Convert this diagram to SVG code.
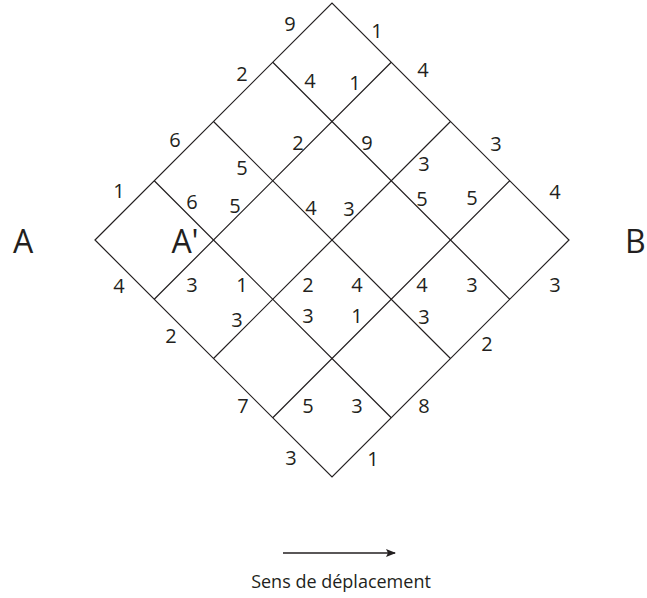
<svg xmlns="http://www.w3.org/2000/svg" width="647" height="598" viewBox="0 0 647 598">
<style>
.g{stroke:#231f20;fill:none;stroke-width:1.2}
.t{font-family:"Open Sans","Liberation Sans",sans-serif;font-size:20px;fill:#231f20;text-anchor:middle;dominant-baseline:central}
.b{font-family:"Open Sans","Liberation Sans",sans-serif;font-size:32px;fill:#231f20;text-anchor:middle}
</style>
<defs>
<marker id="ah" markerWidth="10" markerHeight="8" refX="9" refY="4" orient="auto" markerUnits="userSpaceOnUse">
<path d="M0,0 L10,4 L0,8 L2,4 Z" fill="#231f20"/>
</marker>
</defs>
<g id="grid">
<path class="g" d="M95,240 L332,3 L569,240 L332,477 Z"/>
<path class="g" d="M154.25,299.25 L391.25,62.25 M213.5,358.5 L450.5,121.5 M272.75,417.75 L509.75,180.75"/>
<path class="g" d="M154.25,180.75 L391.25,417.75 M213.5,121.5 L450.5,358.5 M272.75,62.25 L509.75,299.25"/>
</g>
<g id="labels">
<text class="t" x="290" y="23">9</text>
<text class="t" x="377" y="30">1</text>
<text class="t" x="242" y="73">2</text>
<text class="t" x="310" y="80">4</text>
<text class="t" x="355" y="82">1</text>
<text class="t" x="423" y="69">4</text>
<text class="t" x="175" y="139">6</text>
<text class="t" x="298" y="142">2</text>
<text class="t" x="367" y="142">9</text>
<text class="t" x="496" y="143">3</text>
<text class="t" x="242" y="167">5</text>
<text class="t" x="424" y="163">3</text>
<text class="t" x="119" y="190">1</text>
<text class="t" x="192" y="201">6</text>
<text class="t" x="235" y="205">5</text>
<text class="t" x="311" y="207">4</text>
<text class="t" x="349" y="208">3</text>
<text class="t" x="422" y="198">5</text>
<text class="t" x="472" y="197">5</text>
<text class="t" x="555" y="191">4</text>
<text class="t" x="119" y="285">4</text>
<text class="t" x="192" y="284">3</text>
<text class="t" x="242" y="284">1</text>
<text class="t" x="308" y="284">2</text>
<text class="t" x="357" y="284">4</text>
<text class="t" x="422" y="284">4</text>
<text class="t" x="472" y="284">3</text>
<text class="t" x="555" y="284">3</text>
<text class="t" x="237" y="319">3</text>
<text class="t" x="308" y="315">3</text>
<text class="t" x="357" y="315">1</text>
<text class="t" x="424" y="316">3</text>
<text class="t" x="171" y="335">2</text>
<text class="t" x="487" y="343">2</text>
<text class="t" x="243" y="405">7</text>
<text class="t" x="308" y="405">5</text>
<text class="t" x="357" y="405">3</text>
<text class="t" x="424" y="405">8</text>
<text class="t" x="291" y="457">3</text>
<text class="t" x="373" y="458">1</text>
</g>
<g id="pointA"><text class="b" x="23" y="253">A</text></g>
<g id="pointA2"><text class="b" x="185" y="253">A'</text></g>
<g id="pointB"><text class="b" style="text-anchor:start" x="625" y="253">B</text></g>
<g id="legend">
<line x1="283" y1="553" x2="395" y2="553" stroke="#231f20" stroke-width="1.3" marker-end="url(#ah)"/>
<text class="t" style="font-size:18px;dominant-baseline:auto" x="341" y="588">Sens de déplacement</text>
</g>
</svg>
